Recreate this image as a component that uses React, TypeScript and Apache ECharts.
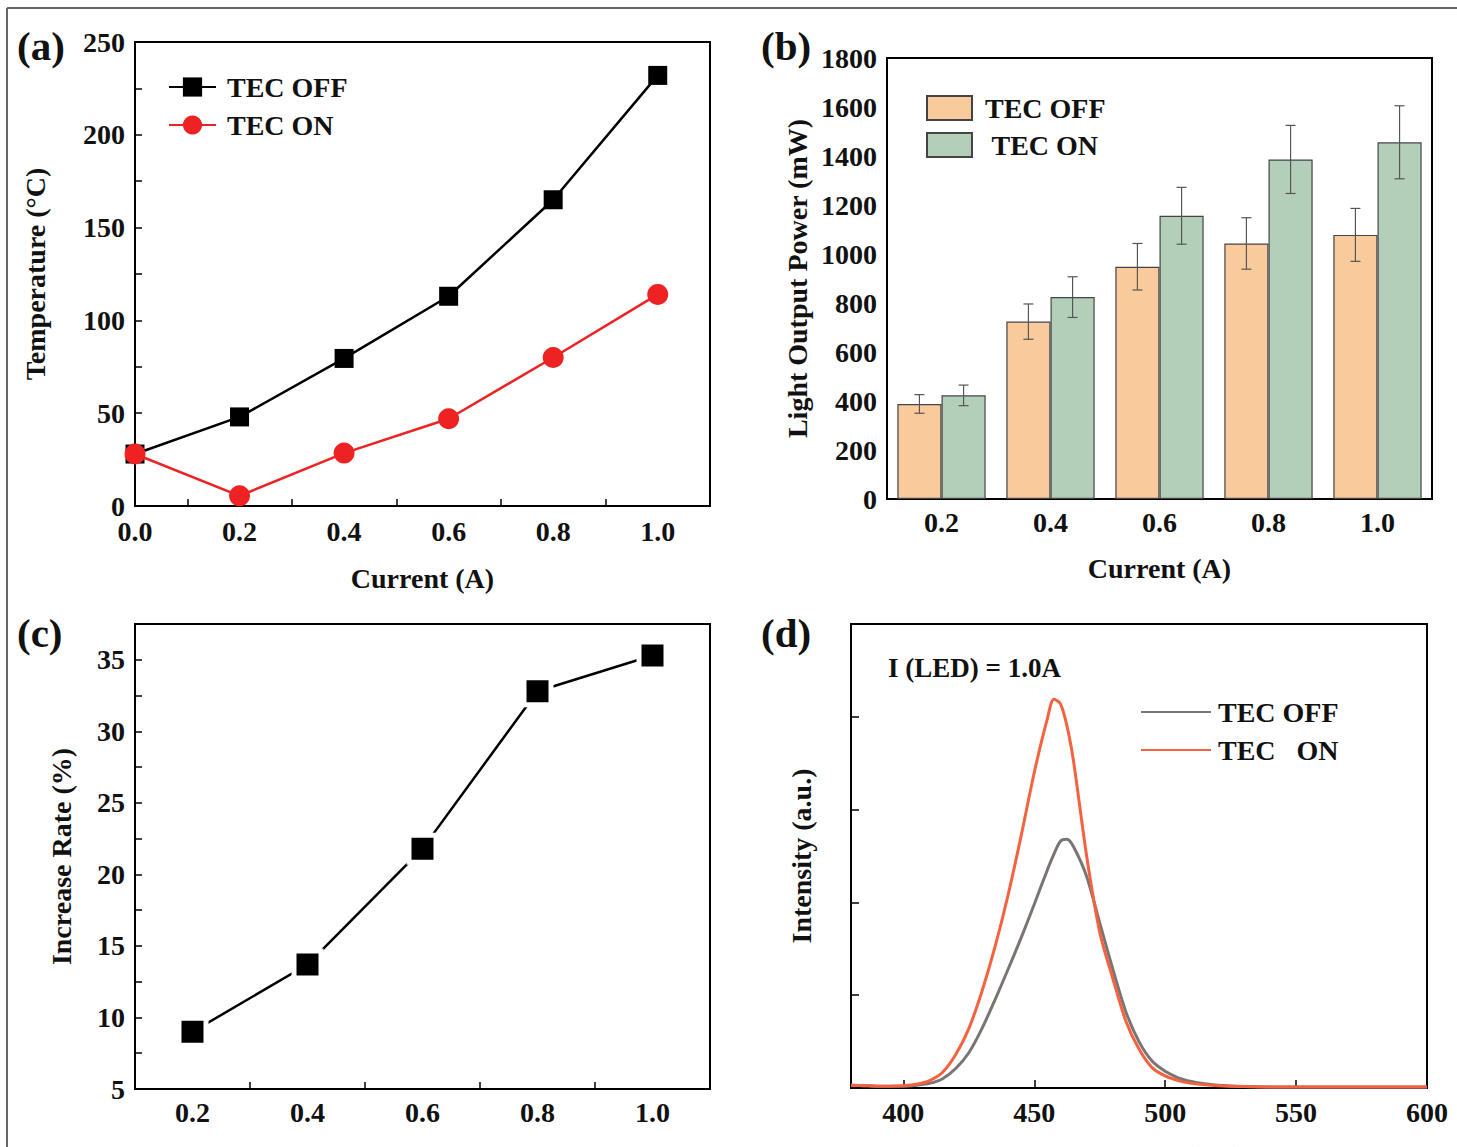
import React, { useEffect, useRef } from "react";
import * as echarts from "echarts";

// ---------- (a) Temperature vs current ----------
const currentA = [0, 0.2, 0.4, 0.6, 0.8, 1.0];
const tempOff = [28, 48, 79.5, 113, 165, 232];
const tempOn = [28, 5.5, 28.5, 47, 80, 114];
const aXLabels = [0, 0.2, 0.4, 0.6, 0.8, 1.0];
const aXMinorTicks = [0.1, 0.3, 0.5, 0.7, 0.9];
const aYLabels = [0, 50, 100, 150, 200, 250];

// ---------- (b) Light output power ----------
const currentCats = ["0.2", "0.4", "0.6", "0.8", "1.0"];
const powerOff = [388, 724, 948, 1043, 1078];
const powerOn = [423, 824, 1156, 1386, 1456];
const errOff = [38, 72, 95, 105, 108];
const errOn = [42, 83, 116, 139, 149];
const bYLabels = [0, 200, 400, 600, 800, 1000, 1200, 1400, 1600, 1800];

// ---------- (c) Increase rate ----------
const currentC = [0.2, 0.4, 0.6, 0.8, 1.0];
const increaseRate = [9.0, 13.7, 21.8, 32.8, 35.3];
const cXLabels = [0.2, 0.4, 0.6, 0.8, 1.0];
const cXMinorTicks = [0.3, 0.5, 0.7, 0.9];
const cYLabels = [5, 10, 15, 20, 25, 30, 35];

// ---------- (d) Spectra ----------
const wavelength = [
  380, 385, 390, 395, 400, 405, 410, 415, 420, 425, 430, 435, 440, 445, 450,
  455, 457.5, 460, 462.5, 465, 470, 475, 480, 485, 490, 495, 500, 505, 510,
  515, 520, 530, 540, 550, 560, 570, 580, 590, 600,
];
const intensityOff = [
  0.03, 0.025, 0.02, 0.02, 0.02, 0.03, 0.05, 0.1, 0.21, 0.38, 0.64, 0.95, 1.28,
  1.62, 1.98, 2.35, 2.52, 2.66, 2.68, 2.6, 2.28, 1.78, 1.28, 0.82, 0.5, 0.29,
  0.18, 0.11, 0.07, 0.045, 0.03, 0.015, 0.01, 0.01, 0.01, 0.01, 0.01, 0.01, 0.01,
];
const intensityOn = [
  0.03, 0.025, 0.02, 0.02, 0.025, 0.04, 0.08, 0.17, 0.36, 0.64, 1.04, 1.52,
  2.08, 2.72, 3.4, 3.98, 4.19, 4.14, 3.9, 3.52, 2.5, 1.68, 1.18, 0.72, 0.42,
  0.22, 0.13, 0.08, 0.05, 0.035, 0.025, 0.015, 0.01, 0.01, 0.01, 0.01, 0.01,
  0.01, 0.01,
];
const dXLabels = [400, 450, 500, 550, 600];
const dXTicks = [400, 450, 500, 550];

const legendNames: Record<string, string> = {
  "a-off": "TEC OFF",
  "a-on": "TEC ON",
  "b-off": "TEC OFF",
  "b-on": " TEC ON",
  "d-off": "TEC OFF",
  "d-on": "TEC   ON",
};

const FONT = "'Liberation Serif', 'Times New Roman', serif";
const INK = "#111";

const labelStyle = {
  fontFamily: FONT,
  fontWeight: "bold" as const,
  fontSize: 28,
  color: INK,
};

const axisLine = { show: true, lineStyle: { color: "#000", width: 2 } };
const tickStyle = { color: "#000", width: 1.5 };

function fmt1(v: number) {
  return v.toFixed(1);
}
function fmt0(v: number) {
  return String(Math.round(v));
}

const gridBase = {
  show: true,
  borderColor: "#000",
  borderWidth: 2,
  containLabel: false,
  outerBoundsMode: "none",
};

export default function App() {
  const ref = useRef<HTMLDivElement>(null);

  useEffect(() => {
    document.body.style.margin = "0";
    if (!ref.current) return;
    const chart = echarts.init(ref.current, undefined, { renderer: "svg" });

    const errData: number[][] = [];
    currentCats.forEach((_, i) => {
      errData.push([i, powerOff[i] - errOff[i], powerOff[i] + errOff[i], 0]);
      errData.push([i, powerOn[i] - errOn[i], powerOn[i] + errOn[i], 1]);
    });
    const BAR_GAP = 0.19;

    const option: any = {
      animation: false,
      backgroundColor: "#fff",
      grid: [
        { ...gridBase, left: 135, top: 42, width: 575, height: 464 },
        { ...gridBase, left: 887, top: 58, width: 545, height: 441 },
        { ...gridBase, left: 135, top: 624, width: 575, height: 465 },
        { ...gridBase, left: 851, top: 624, width: 576, height: 464 },
      ],
      xAxis: [
        {
          gridIndex: 0,
          type: "value",
          min: 0,
          max: 1.1,
          interval: 0.1,
          splitLine: { show: false },
          axisLine,
          axisTick: { inside: true, length: 7, lineStyle: tickStyle, customValues: aXMinorTicks },
          axisLabel: { ...labelStyle, margin: 11, customValues: aXLabels, formatter: fmt1 },
          name: "Current (A)",
          nameLocation: "middle",
          nameGap: 58,
          nameTextStyle: labelStyle,
        },
        {
          gridIndex: 1,
          type: "category",
          data: currentCats,
          axisLine,
          axisTick: { inside: true, length: 6, lineStyle: tickStyle, alignWithLabel: false },
          axisLabel: { ...labelStyle, margin: 9 },
          name: "Current (A)",
          nameLocation: "middle",
          nameGap: 55,
          nameTextStyle: labelStyle,
        },
        {
          gridIndex: 2,
          type: "value",
          min: 0.1,
          max: 1.1,
          interval: 0.1,
          splitLine: { show: false },
          axisLine,
          axisTick: { inside: true, length: 7, lineStyle: tickStyle, customValues: cXMinorTicks },
          axisLabel: { ...labelStyle, margin: 9, customValues: cXLabels, formatter: fmt1 },
        },
        {
          gridIndex: 3,
          type: "value",
          min: 380,
          max: 600,
          splitLine: { show: false },
          axisLine,
          axisTick: { inside: true, length: 8, lineStyle: tickStyle, customValues: dXTicks },
          axisLabel: { ...labelStyle, margin: 10, customValues: dXLabels, formatter: fmt0 },
          name: "Wavelength (nm)",
          nameLocation: "middle",
          nameGap: 54,
          nameTextStyle: labelStyle,
        },
      ],
      yAxis: [
        {
          gridIndex: 0,
          type: "value",
          min: 0,
          max: 250,
          interval: 25,
          splitLine: { show: false },
          axisLine,
          axisTick: { inside: true, length: 7, lineStyle: tickStyle },
          axisLabel: { ...labelStyle, margin: 10, customValues: aYLabels, formatter: fmt0 },
          name: "Temperature (°C)",
          nameLocation: "middle",
          nameGap: 86,
          nameTextStyle: labelStyle,
        },
        {
          gridIndex: 1,
          type: "value",
          min: 0,
          max: 1800,
          interval: 100,
          splitLine: { show: false },
          axisLine,
          axisTick: { inside: true, length: 6, lineStyle: tickStyle },
          axisLabel: { ...labelStyle, margin: 10, customValues: bYLabels, formatter: fmt0 },
          name: "Light Output Power (mW)",
          nameLocation: "middle",
          nameGap: 76,
          nameTextStyle: labelStyle,
        },
        {
          gridIndex: 2,
          type: "value",
          min: 5,
          max: 37.5,
          interval: 2.5,
          splitLine: { show: false },
          axisLine,
          axisTick: { inside: true, length: 7, lineStyle: tickStyle },
          axisLabel: { ...labelStyle, margin: 10, customValues: cYLabels, formatter: fmt0 },
          name: "Increase Rate (%)",
          nameLocation: "middle",
          nameGap: 60,
          nameTextStyle: labelStyle,
        },
        {
          gridIndex: 3,
          type: "value",
          min: 0,
          max: 5,
          interval: 1,
          splitLine: { show: false },
          axisLine,
          axisTick: { inside: true, length: 8, lineStyle: tickStyle },
          axisLabel: { show: false },
          name: "Intensity (a.u.)",
          nameLocation: "middle",
          nameGap: 36,
          nameTextStyle: labelStyle,
        },
      ],
      legend: [
        {
          orient: "vertical",
          left: 168,
          top: 73,
          padding: 0,
          itemWidth: 47,
          itemHeight: 24,
          itemGap: 10,
          data: ["a-off", "a-on"],
          formatter: (n: string) => legendNames[n],
          textStyle: { ...labelStyle, lineHeight: 28, padding: [0, 0, 0, 6] },
        },
        {
          orient: "vertical",
          left: 926,
          top: 94,
          padding: 0,
          itemWidth: 45,
          itemHeight: 24,
          itemGap: 9,
          icon: "rect",
          data: ["b-off", "b-on"],
          formatter: (n: string) => legendNames[n],
          textStyle: { ...labelStyle, lineHeight: 28, padding: [0, 0, 0, 8] },
        },
        {
          orient: "vertical",
          left: 1140,
          top: 698,
          padding: 0,
          itemWidth: 70,
          itemHeight: 14,
          itemGap: 10,
          data: ["d-off", "d-on"],
          itemStyle: { opacity: 0 },
          formatter: (n: string) => legendNames[n],
          textStyle: { ...labelStyle, lineHeight: 28, padding: [0, 0, 0, 2] },
        },
      ],
      series: [
        {
          name: "a-off",
          type: "line",
          xAxisIndex: 0,
          yAxisIndex: 0,
          data: currentA.map((x, i) => [x, tempOff[i]]),
          symbol: "rect",
          symbolSize: 19,
          lineStyle: { color: "#000", width: 2.5 },
          itemStyle: { color: "#000" },
          z: 3,
        },
        {
          name: "a-on",
          type: "line",
          xAxisIndex: 0,
          yAxisIndex: 0,
          data: currentA.map((x, i) => [x, tempOn[i]]),
          symbol: "circle",
          symbolSize: 21,
          lineStyle: { color: "#ee2222", width: 2.5 },
          itemStyle: { color: "#ee2222" },
          z: 4,
        },
        {
          name: "b-off",
          type: "bar",
          xAxisIndex: 1,
          yAxisIndex: 1,
          data: powerOff,
          barGap: "0%",
          barCategoryGap: BAR_GAP * 100 + "%",
          itemStyle: { color: "#f9cb9c", borderColor: "#444", borderWidth: 1.2 },
        },
        {
          name: "b-on",
          type: "bar",
          xAxisIndex: 1,
          yAxisIndex: 1,
          data: powerOn,
          barGap: "0%",
          barCategoryGap: BAR_GAP * 100 + "%",
          itemStyle: { color: "#b3cfb9", borderColor: "#444", borderWidth: 1.2 },
        },
        {
          name: "b-err",
          type: "custom",
          xAxisIndex: 1,
          yAxisIndex: 1,
          data: errData,
          encode: { x: 0, y: [1, 2] },
          z: 10,
          renderItem: (params: any, api: any) => {
            const ci = api.value(0);
            const lo = api.value(1);
            const hi = api.value(2);
            const side = api.value(3);
            const band = api.size([1, 0])[0];
            const barW = (band * (1 - BAR_GAP)) / 2;
            const cx = api.coord([ci, 0])[0] + (side === 0 ? -barW / 2 : barW / 2);
            const yLo = api.coord([ci, lo])[1];
            const yHi = api.coord([ci, hi])[1];
            const cap = 5;
            const st = { stroke: "#555", lineWidth: 1.2 };
            return {
              type: "group",
              children: [
                { type: "line", shape: { x1: cx, y1: yHi, x2: cx, y2: yLo }, style: st },
                { type: "line", shape: { x1: cx - cap, y1: yHi, x2: cx + cap, y2: yHi }, style: st },
                { type: "line", shape: { x1: cx - cap, y1: yLo, x2: cx + cap, y2: yLo }, style: st },
              ],
            };
          },
        },
        {
          name: "c-rate",
          type: "line",
          xAxisIndex: 2,
          yAxisIndex: 2,
          data: currentC.map((x, i) => [x, increaseRate[i]]),
          symbol: "rect",
          symbolSize: 27,
          lineStyle: { color: "#000", width: 2.5 },
          itemStyle: { color: "#000", borderColor: "#fff", borderWidth: 5 },
        },
        {
          name: "d-off",
          type: "line",
          xAxisIndex: 3,
          yAxisIndex: 3,
          data: wavelength.map((x, i) => [x, intensityOff[i]]),
          showSymbol: false,
          symbol: "none",
          smooth: 0.3,
          lineStyle: { color: "#7a7473", width: 3 },
          itemStyle: { color: "#7a7473" },
          z: 2,
        },
        {
          name: "d-on",
          type: "line",
          xAxisIndex: 3,
          yAxisIndex: 3,
          data: wavelength.map((x, i) => [x, intensityOn[i]]),
          showSymbol: false,
          symbol: "none",
          smooth: 0.3,
          lineStyle: { color: "#f4623f", width: 3 },
          itemStyle: { color: "#f4623f" },
          z: 3,
        },
      ],
      graphic: [
        { type: "line", shape: { x1: 7, y1: 8, x2: 1457, y2: 8 }, style: { stroke: "#666", lineWidth: 2 } },
        { type: "line", shape: { x1: 7, y1: 8, x2: 7, y2: 1147 }, style: { stroke: "#666", lineWidth: 2 } },
        { type: "text", x: 17, y: 46, style: { text: "(a)", fontFamily: FONT, fontWeight: "bold", fontSize: 41, fill: INK, verticalAlign: "middle" } },
        { type: "text", x: 761, y: 46, style: { text: "(b)", fontFamily: FONT, fontWeight: "bold", fontSize: 41, fill: INK, verticalAlign: "middle" } },
        { type: "text", x: 17, y: 633, style: { text: "(c)", fontFamily: FONT, fontWeight: "bold", fontSize: 41, fill: INK, verticalAlign: "middle" } },
        { type: "text", x: 761, y: 633, style: { text: "(d)", fontFamily: FONT, fontWeight: "bold", fontSize: 41, fill: INK, verticalAlign: "middle" } },
        { type: "text", x: 888, y: 668, style: { text: "I (LED) = 1.0A", fontFamily: FONT, fontWeight: "bold", fontSize: 27, fill: INK, verticalAlign: "middle" } },
      ],
    };

    chart.setOption(option);
    return () => chart.dispose();
  }, []);

  return <div ref={ref} style={{ width: 1457, height: 1147 }} />;
}
